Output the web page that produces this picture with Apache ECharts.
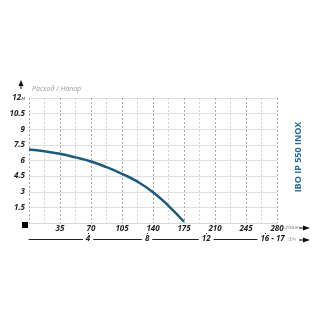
<!DOCTYPE html>
<html>
<head>
<meta charset="utf-8">
<script src="https://cdn.jsdelivr.net/npm/echarts@6/dist/echarts.min.js"></script>
<style>
  html, body { margin: 0; padding: 0; background: #fff; }
  #chart { width: 320px; height: 320px; }
</style>
</head>
<body>
<div id="chart"></div>
<script>
// расход, л/мин
let flowLpm = [0, 17.5, 35, 52.5, 70, 87.5, 105, 122.5, 140, 157.5, 175]
// напор, м
let headM = [7.05, 6.88, 6.64, 6.3, 5.9, 5.36, 4.72, 3.97, 2.96, 1.65, 0.12]

// second scale (м3/ч)
let m3Ticks = [4, 8, 12, 16, 16.8]
let m3LabelPos = [4, 8, 12, 16.5]
let m3LabelText = ['4', '8', '12', '16 - 17']

let pumpName = 'IBO IP 550 INOX'
let axisTitle = 'Расход / Напор'

let curveData = flowLpm.map((x, i) => [x, headM[i]])
let font = '"Open Sans", "DejaVu Sans", sans-serif'

let chart = echarts.init(document.getElementById('chart'))
let options = {
  animation: false,
  grid: {
    left: 29,
    top: 98,
    right: 43,
    bottom: 97,
    outerBoundsMode: 'none'
  },
  xAxis: [
    {
      type: 'value',
      min: 0,
      max: 280,
      interval: 35,
      axisLine: { lineStyle: { color: '#d8d8d8', width: 1 } },
      axisTick: { show: false },
      axisLabel: {
        margin: 2,
        fontFamily: font,
        fontSize: 8,
        fontStyle: 'italic',
        fontWeight: 'bold',
        color: '#222',
        formatter: v => v === 0 ? '' : String(v)
      },
      splitLine: { show: true, lineStyle: { color: '#a8a8a8', type: [2, 2], width: 1 } },
      minorTick: { show: false, splitNumber: 2 },
      minorSplitLine: { show: true, lineStyle: { color: '#d4d4d4', type: [2, 2], width: 1 } }
    },
    {
      type: 'value',
      position: 'bottom',
      offset: 16,
      min: 0,
      max: 280 / (1000 / 60),
      axisLine: { show: true, lineStyle: { color: '#222', width: 1 } },
      axisTick: {
        show: true,
        inside: true,
        length: 6,
        customValues: m3Ticks,
        lineStyle: { color: '#222' }
      },
      axisLabel: {
        margin: 0,
        verticalAlign: 'middle',
        customValues: m3LabelPos,
        fontFamily: font,
        fontSize: 8,
        fontStyle: 'italic',
        fontWeight: 'bold',
        color: '#222',
        backgroundColor: '#fff',
        padding: [1, 3],
        formatter: v => m3LabelText[m3LabelPos.indexOf(v)] || ''
      },
      splitLine: { show: false }
    }
  ],
  yAxis: {
    type: 'value',
    min: 0,
    max: 12,
    interval: 1.5,
    axisLine: { show: false },
    axisTick: { show: false },
    axisLabel: {
      margin: 4,
      fontFamily: font,
      fontSize: 8,
      fontStyle: 'italic',
      fontWeight: 'bold',
      color: '#222',
      formatter: v => {
        if (v === 0) return ''
        if (v === 12) return '{v|12}{u|м}'
        return '{v|' + v + '}'
      },
      rich: {
        v: { fontFamily: font, fontSize: 8, fontStyle: 'italic', fontWeight: 'bold', color: '#222' },
        u: { fontFamily: font, fontSize: 5, color: '#888', padding: [2, 0, 0, 0] }
      }
    },
    splitLine: { show: true, lineStyle: { color: '#e0e0e0', width: 1 } }
  },
  graphic: [
    // стрелка вверх
    { type: 'polygon', shape: { points: [[21, 80], [18.5, 86], [23.5, 86]] }, style: { fill: '#111' } },
    { type: 'rect', shape: { x: 20.5, y: 85, width: 1, height: 4 }, style: { fill: '#111' } },
    { type: 'text', left: 32, top: 85, style: { text: axisTitle, font: 'italic 7px ' + font, fill: '#9a9a9a' } },
    // чёрный квадрат у нуля
    { type: 'rect', shape: { x: 22, y: 222, width: 6, height: 6 }, style: { fill: '#000' } },
    // единицы и стрелки
    { type: 'text', left: 285, top: 225, style: { text: 'л/мин', font: 'italic 5px ' + font, fill: '#888' } },
    { type: 'rect', shape: { x: 299, y: 227.5, width: 6, height: 1 }, style: { fill: '#111' } },
    { type: 'polygon', shape: { points: [[310, 228], [303, 225.5], [303, 230.5]] }, style: { fill: '#111' } },
    { type: 'text', left: 285, top: 237, style: { text: 'м3/ч', font: 'italic 5px ' + font, fill: '#888' } },
    { type: 'rect', shape: { x: 299, y: 239.5, width: 6, height: 1 }, style: { fill: '#111' } },
    { type: 'polygon', shape: { points: [[310, 240], [303, 237.5], [303, 242.5]] }, style: { fill: '#111' } },
    // название насоса
    {
      type: 'text',
      x: 298,
      y: 157,
      rotation: Math.PI / 2,
      style: {
        text: pumpName,
        font: 'bold 9px ' + font,
        fill: '#2a6d95',
        align: 'center',
        verticalAlign: 'middle'
      }
    }
  ],
  series: [
    {
      type: 'line',
      xAxisIndex: 0,
      smooth: true,
      showSymbol: false,
      lineStyle: { color: '#1d5b7c', width: 2.5 },
      data: curveData
    }
  ]
}
chart.setOption(options)
</script>
</body>
</html>
